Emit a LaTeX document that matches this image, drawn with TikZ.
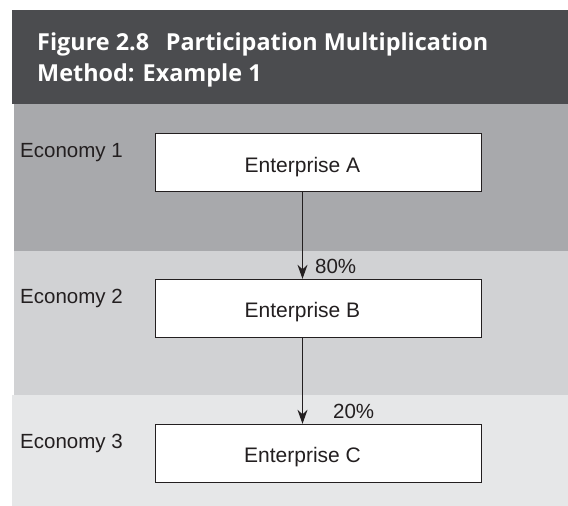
\documentclass[tikz,border=0pt]{standalone}
\usepackage{fontspec}
\setmainfont{Liberation Sans}
\newfontfamily\headfont{Open Sans}
\usetikzlibrary{arrows.meta}

\definecolor{headgray}{HTML}{4B4C4F}
\definecolor{econone}{HTML}{A8A9AC}
\definecolor{econtwo}{HTML}{D1D2D4}
\definecolor{econthree}{HTML}{E6E7E8}
\definecolor{ink}{HTML}{231F20}

\begin{document}
\begin{tikzpicture}[x=1pt,y=-1pt,
	ebox/.style={draw=ink,line width=1.4pt,fill=white,minimum width=326pt,minimum height=58pt,inner sep=0pt},
	etext/.style={anchor=base,inner sep=0pt,text=ink,font=\fontsize{21}{25}\selectfont},
	econ/.style={anchor=base west,inner sep=0pt,text=ink,font=\fontsize{20.5}{25}\selectfont},
	share/.style={anchor=base west,inner sep=0pt,text=ink,font=\fontsize{20.5}{25}\selectfont},
	title/.style={anchor=base west,inner sep=0pt,text=white,font=\headfont\bfseries\fontsize{23.4}{31}\selectfont},
	link/.style={draw=ink,line width=1pt,-{Stealth[length=14pt,width=10pt]}}]
	\useasboundingbox (0,0) rectangle (568,506);
	
	% header and economy bands
	\fill[headgray] (12,10) rectangle (568,104);
	\fill[econone] (14,104) rectangle (568,251);
	\fill[econtwo] (14,251) rectangle (568,395);
	\fill[econthree] (12,395) rectangle (568,506);
	
	\node[title] (t1) at (37,50) {Figure 2.8\hspace{0.45em} Participation Multiplication};
	\node[title] (t2) at (37,81) {Method: Example 1};
	
	\node[econ] (e1) at (20,157) {Economy 1};
	\node[econ] (e2) at (20,303) {Economy 2};
	\node[econ] (e3) at (20,448) {Economy 3};
	
	\node[ebox] (boxA) at (318.5,162.5) {};
	\node[ebox] (boxB) at (318.5,308.5) {};
	\node[ebox] (boxC) at (318.5,453.5) {};
	
	\node[etext] (entA) at (302.5,172) {Enterprise A};
	\node[etext] (entB) at (302.5,317) {Enterprise B};
	\node[etext] (entC) at (302.5,462) {Enterprise C};
	
	\draw[link] (boxA.south -| entA) -- (boxB.north -| entA);
	\draw[link] (boxB.south -| entB) -- (boxC.north -| entB);
	
	\node[share] (s1) at (315,273) {80\%};
	\node[share] (s2) at (333,418) {20\%};
	
\end{tikzpicture}
\end{document}
